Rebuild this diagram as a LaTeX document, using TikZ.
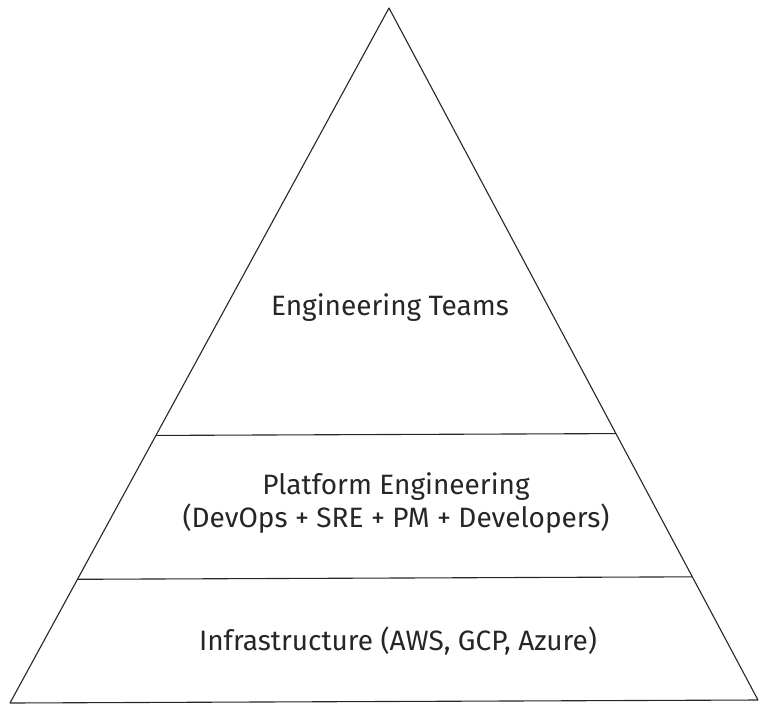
\documentclass[tikz,border=0pt]{standalone}
\usepackage{fontspec}
\setmainfont{Fira Sans}
\usetikzlibrary{calc}
\tikzset{lbl/.style={font=\fontsize{28}{33}\selectfont, text=black!85, align=center, inner sep=0pt},
 edge/.style={draw=black!85, line width=1.1pt, line join=round}}
\begin{document}
\begin{tikzpicture}[x=1pt,y=-1pt]
\useasboundingbox (0,0) rectangle (768,715);
\coordinate (top) at (389,8);
\coordinate (bl) at (10,703);
\coordinate (br) at (758,700);
\draw[edge] (top) -- (bl) -- (br) -- cycle;
\coordinate (l1) at ($(top)!0.615!(bl)$);
\coordinate (r1) at ($(top)!0.615!(br)$);
\coordinate (l2) at ($(top)!0.822!(bl)$);
\coordinate (r2) at ($(top)!0.822!(br)$);
\draw[edge] (l1) -- (r1);
\draw[edge] (l2) -- (r2);
\node[lbl] (teams) at (390,308) {Engineering Teams};
\node[lbl] (plat) at (396,503) {Platform Engineering\\(DevOps + SRE + PM + Developers)};
\node[lbl] (infra) at (398,641) {Infrastructure (AWS, GCP, Azure)};
\end{tikzpicture}
\end{document}
